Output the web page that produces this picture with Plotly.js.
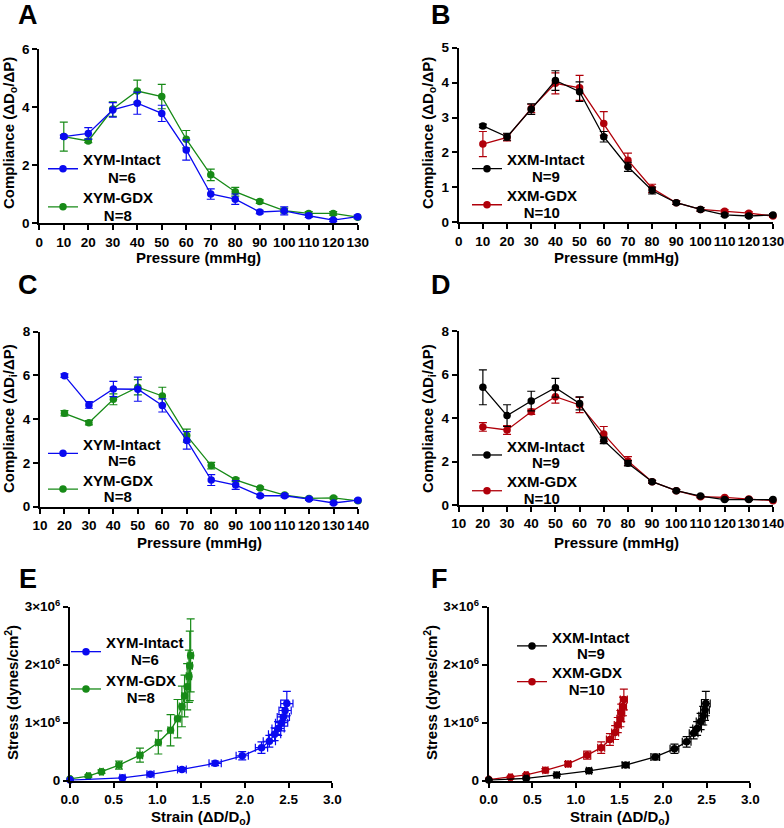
<!DOCTYPE html>
<html>
<head>
<meta charset="utf-8">
<script src="https://cdn.plot.ly/plotly-3.0.1.min.js"></script>
<style>html,body{margin:0;padding:0;background:#fff;}#chart{width:784px;height:828px;}</style>
</head>
<body>
<div id="chart"></div>
<script>
// ---------- DATA ----------
// Panels A/B: outer diameter compliance vs pressure
const pressureOD = [10, 20, 30, 40, 50, 60, 70, 80, 90, 100, 110, 120, 130];
// Panels C/D: inner diameter compliance vs pressure
const pressureID = [20, 30, 40, 50, 60, 70, 80, 90, 100, 110, 120, 130, 140];

const aIntact    = [2.99, 3.10, 3.91, 4.14, 3.79, 2.53, 1.01, 0.83, 0.39, 0.43, 0.26, 0.11, 0.23];
const aIntactErr = [0.05, 0.20, 0.25, 0.38, 0.28, 0.35, 0.18, 0.18, 0.06, 0.14, 0.06, 0.05, 0.05];
const aGdx       = [2.99, 2.84, 3.94, 4.56, 4.37, 2.90, 1.67, 1.09, 0.75, 0.44, 0.34, 0.34, 0.21];
const aGdxErr    = [0.50, 0.06, 0.25, 0.38, 0.42, 0.30, 0.20, 0.15, 0.06, 0.08, 0.06, 0.06, 0.05];

const bIntact    = [2.76, 2.45, 3.24, 4.06, 3.74, 2.45, 1.59, 0.91, 0.56, 0.37, 0.21, 0.18, 0.21];
const bIntactErr = [0.05, 0.10, 0.15, 0.28, 0.28, 0.15, 0.13, 0.10, 0.05, 0.05, 0.04, 0.04, 0.04];
const bGdx       = [2.24, 2.43, 3.26, 3.98, 3.85, 2.83, 1.78, 0.97, 0.56, 0.37, 0.32, 0.26, 0.18];
const bGdxErr    = [0.36, 0.10, 0.12, 0.30, 0.36, 0.34, 0.20, 0.12, 0.05, 0.05, 0.04, 0.04, 0.04];

const cIntact    = [5.99, 4.65, 5.38, 5.37, 4.63, 3.03, 1.22, 0.99, 0.50, 0.50, 0.35, 0.17, 0.30];
const cIntactErr = [0.08, 0.15, 0.35, 0.55, 0.30, 0.40, 0.25, 0.20, 0.06, 0.08, 0.06, 0.05, 0.05];
const cGdx       = [4.27, 3.84, 4.91, 5.46, 5.06, 3.25, 1.88, 1.23, 0.85, 0.53, 0.38, 0.40, 0.27];
const cGdxErr    = [0.12, 0.10, 0.25, 0.35, 0.40, 0.30, 0.15, 0.08, 0.06, 0.05, 0.05, 0.05, 0.05];

const dIntact    = [5.41, 4.11, 4.78, 5.39, 4.67, 2.97, 1.92, 1.07, 0.66, 0.41, 0.25, 0.25, 0.25];
const dIntactErr = [0.80, 0.50, 0.45, 0.43, 0.30, 0.15, 0.12, 0.06, 0.05, 0.05, 0.04, 0.04, 0.04];
const dGdx       = [3.59, 3.45, 4.29, 4.98, 4.60, 3.26, 2.02, 1.07, 0.66, 0.38, 0.35, 0.28, 0.20];
const dGdxErr    = [0.20, 0.20, 0.12, 0.30, 0.35, 0.35, 0.20, 0.06, 0.05, 0.05, 0.04, 0.04, 0.04];

// Panels E/F: stress (dynes/cm^2) vs strain
const eIntactStrain    = [0, 0.60, 0.92, 1.28, 1.66, 1.97, 2.19, 2.28, 2.34, 2.38, 2.42, 2.44, 2.46, 2.48];
const eIntactStrainErr = [0.01, 0.03, 0.04, 0.05, 0.07, 0.07, 0.07, 0.07, 0.07, 0.07, 0.07, 0.07, 0.07, 0.07];
const eIntactStress    = [0.01e6, 0.05e6, 0.11e6, 0.195e6, 0.30e6, 0.43e6, 0.57e6, 0.68e6, 0.80e6, 0.90e6, 1.00e6, 1.10e6, 1.21e6, 1.33e6];
const eIntactStressErr = [0.005e6, 0.01e6, 0.02e6, 0.03e6, 0.04e6, 0.07e6, 0.10e6, 0.10e6, 0.11e6, 0.12e6, 0.14e6, 0.16e6, 0.18e6, 0.21e6];

const eGdxStrain    = [0, 0.21, 0.36, 0.56, 0.80, 1.01, 1.15, 1.23, 1.28, 1.31, 1.34, 1.36, 1.37, 1.38];
const eGdxStrainErr = [0.01, 0.02, 0.02, 0.03, 0.03, 0.03, 0.03, 0.03, 0.03, 0.03, 0.03, 0.03, 0.03, 0.03];
const eGdxStress    = [0.03e6, 0.08e6, 0.155e6, 0.27e6, 0.44e6, 0.66e6, 0.87e6, 1.07e6, 1.28e6, 1.46e6, 1.62e6, 1.80e6, 1.98e6, 2.16e6];
const eGdxStressErr = [0.01e6, 0.02e6, 0.03e6, 0.07e6, 0.12e6, 0.20e6, 0.27e6, 0.33e6, 0.35e6, 0.36e6, 0.40e6, 0.45e6, 0.60e6, 0.63e6];

const fIntactStrain    = [0, 0.43, 0.78, 1.15, 1.57, 1.91, 2.13, 2.27, 2.35, 2.39, 2.43, 2.46, 2.48, 2.49];
const fIntactStrainErr = [0.01, 0.02, 0.03, 0.03, 0.04, 0.05, 0.05, 0.05, 0.05, 0.05, 0.05, 0.05, 0.05, 0.05];
const fIntactStress    = [0.01e6, 0.04e6, 0.10e6, 0.17e6, 0.27e6, 0.41e6, 0.55e6, 0.67e6, 0.82e6, 0.90e6, 1.02e6, 1.12e6, 1.22e6, 1.33e6];
const fIntactStressErr = [0.005e6, 0.01e6, 0.02e6, 0.03e6, 0.04e6, 0.05e6, 0.08e6, 0.09e6, 0.10e6, 0.12e6, 0.14e6, 0.16e6, 0.18e6, 0.21e6];

const fGdxStrain    = [0, 0.25, 0.43, 0.65, 0.91, 1.13, 1.29, 1.39, 1.45, 1.48, 1.51, 1.52, 1.54, 1.55];
const fGdxStrainErr = [0.01, 0.02, 0.02, 0.03, 0.03, 0.04, 0.04, 0.04, 0.04, 0.04, 0.04, 0.04, 0.04, 0.04];
const fGdxStress    = [0.02e6, 0.06e6, 0.10e6, 0.18e6, 0.29e6, 0.44e6, 0.57e6, 0.71e6, 0.83e6, 0.96e6, 1.07e6, 1.17e6, 1.28e6, 1.40e6];
const fGdxStressErr = [0.01e6, 0.015e6, 0.02e6, 0.03e6, 0.04e6, 0.07e6, 0.10e6, 0.10e6, 0.12e6, 0.13e6, 0.14e6, 0.15e6, 0.16e6, 0.18e6];

// Text
const groupXYMIntact = ['XYM-Intact', 'N=6'];
const groupXYMGdx    = ['XYM-GDX', 'N=8'];
const groupXXMIntact = ['XXM-Intact', 'N=9'];
const groupXXMGdx    = ['XXM-GDX', 'N=10'];
const titlePressure = 'Pressure (mmHg)';
const titleStrain   = 'Strain (ΔD/D<sub>o</sub>)';
const titleCompOD   = 'Compliance (ΔD<sub>o</sub>/ΔP)';
const titleCompID   = 'Compliance (ΔD<sub>i</sub>/ΔP)';
const titleStress   = 'Stress (dynes/cm<sup>2</sup>)';
const panelLetters  = ['A', 'B', 'C', 'D', 'E', 'F'];
const stressTickVals = [0, 1e6, 2e6, 3e6];
const stressTickText = ['0', '1×10<sup>6</sup>', '2×10<sup>6</sup>', '3×10<sup>6</sup>'];

// ---------- STYLE ----------
const BLUE = '#0a0af0', GREEN = '#178a17', BLACK = '#000000', RED = '#b0000a';
const FONT = 'Liberation Sans, Arial, Helvetica, sans-serif';
const TICK = 13.5, TITLE = 15, LEGTXT = 15;
const NB = '\u00a0';

function legLabel(g, pad) {
  const s = '<span style="font-size:' + LEGTXT + 'px">';
  return s + g[0] + '</span><br>' + s + NB.repeat(pad) + g[1] + '</span>';
}

function series(x, y, ey, name, color, ax, leg, ex) {
  const t = {
    type: 'scatter', mode: 'lines+markers', x: x, y: y, name: name,
    xaxis: 'x' + ax, yaxis: 'y' + ax, legend: leg, cliponaxis: false,
    line: {color: color, width: 1.3},
    marker: {color: color, size: 7.5, symbol: 'circle'},
    error_y: {type: 'data', array: ey, visible: true, color: color, thickness: 1.2, width: 4}
  };
  if (ex) t.error_x = {type: 'data', array: ex, visible: true, color: color, thickness: 1.2, width: 4};
  return t;
}

const lXYMI = legLabel(groupXYMIntact, 6), lXYMG = legLabel(groupXYMGdx, 5);
const lXXMI = legLabel(groupXXMIntact, 6), lXXMG = legLabel(groupXXMGdx, 4);

const data = [
  series(pressureOD, aGdx, aGdxErr, lXYMG, GREEN, '', 'legend'),
  series(pressureOD, aIntact, aIntactErr, lXYMI, BLUE, '', 'legend'),
  series(pressureOD, bGdx, bGdxErr, lXXMG, RED, '2', 'legend2'),
  series(pressureOD, bIntact, bIntactErr, lXXMI, BLACK, '2', 'legend2'),
  series(pressureID, cGdx, cGdxErr, lXYMG, GREEN, '3', 'legend3'),
  series(pressureID, cIntact, cIntactErr, lXYMI, BLUE, '3', 'legend3'),
  series(pressureID, dGdx, dGdxErr, lXXMG, RED, '4', 'legend4'),
  series(pressureID, dIntact, dIntactErr, lXXMI, BLACK, '4', 'legend4'),
  series(eGdxStrain, eGdxStress, eGdxStressErr, lXYMG, GREEN, '5', 'legend5', eGdxStrainErr),
  series(eIntactStrain, eIntactStress, eIntactStressErr, lXYMI, BLUE, '5', 'legend5', eIntactStrainErr),
  series(fGdxStrain, fGdxStress, fGdxStressErr, lXXMG, RED, '6', 'legend6', fGdxStrainErr),
  series(fIntactStrain, fIntactStress, fIntactStressErr, lXXMI, BLACK, '6', 'legend6', fIntactStrainErr)
];
data[0].xaxis = 'x'; data[0].yaxis = 'y'; data[1].xaxis = 'x'; data[1].yaxis = 'y';

const W = 784, H = 828;
const px = v => v / W, py = v => 1 - v / H;

function xax(l, r, range, dtick, anchor, fmt) {
  return {
    domain: [px(l), px(r)], range: range, dtick: dtick, tick0: range[0], anchor: anchor,
    showline: true, linewidth: 2, linecolor: '#000', mirror: false,
    ticks: 'outside', ticklen: 5, tickwidth: 2, tickcolor: '#000', tickangle: 0,
    ticklabeloverflow: 'allow',
    showgrid: false, zeroline: false, tickformat: fmt || '',
    tickfont: {family: FONT, size: TICK, color: '#000', weight: 'bold'},
    automargin: false, fixedrange: true
  };
}
function yax(b, t, range, dtick, anchor, extra) {
  const a = {
    domain: [py(b), py(t)], range: range, dtick: dtick, anchor: anchor,
    showline: true, linewidth: 2, linecolor: '#000', mirror: false,
    ticks: 'outside', ticklen: 5, tickwidth: 2, tickcolor: '#000',
    ticklabeloverflow: 'allow',
    showgrid: false, zeroline: false,
    tickfont: {family: FONT, size: TICK, color: '#000', weight: 'bold'},
    automargin: false, fixedrange: true
  };
  return Object.assign(a, extra || {});
}

function leg(xpx, ypx, fs) {
  return {x: px(xpx), y: py(ypx), xanchor: 'left', yanchor: 'top', xref: 'paper', yref: 'paper',
          bgcolor: 'rgba(0,0,0,0)', font: {family: FONT, size: fs, color: '#000', weight: 'bold'},
          traceorder: 'reversed', itemclick: false, valign: 'middle'};
}

function ann(t, x, y, size, angle) {
  return {text: t, x: px(x), y: py(y), xref: 'paper', yref: 'paper', showarrow: false,
          xanchor: 'center', yanchor: 'middle', textangle: angle || 0,
          font: {family: FONT, size: size, color: '#000', weight: 'bold'}};
}

const stressY = {tickmode: 'array', tickvals: stressTickVals, ticktext: stressTickText};

const layout = {
  width: W, height: H, margin: {l: 0, r: 0, t: 0, b: 0, autoexpand: false},
  paper_bgcolor: '#fff', plot_bgcolor: '#fff',
  font: {family: FONT, color: '#000', weight: 'bold'},
  showlegend: true,
  xaxis:  xax(39.3, 357.7, [0, 130], 10, 'y'),
  yaxis:  yax(223.3, 49.3, [0, 6], 2, 'x'),
  xaxis2: xax(458.7, 773, [0, 130], 10, 'y2'),
  yaxis2: yax(222.3, 47.7, [0, 5], 1, 'x2'),
  xaxis3: xax(40, 358, [10, 140], 10, 'y3'),
  yaxis3: yax(506.7, 331.7, [0, 8], 2, 'x3'),
  xaxis4: xax(458.7, 773, [10, 140], 10, 'y4'),
  yaxis4: yax(505, 331, [0, 8], 2, 'x4'),
  xaxis5: xax(70, 332.3, [0, 3], 0.5, 'y5', '.1f'),
  yaxis5: yax(780.7, 606.7, [0, 3e6], null, 'x5', stressY),
  xaxis6: xax(488.7, 750.3, [0, 3], 0.5, 'y6', '.1f'),
  yaxis6: yax(780.7, 606.7, [0, 3e6], null, 'x6', stressY),
  legend:  leg(43, 144.7, 13.5),
  legend2: leg(467, 145.7, 12.7),
  legend3: leg(43, 430.4, 12.6),
  legend4: leg(467, 432.1, 12.6),
  legend5: leg(66, 628, 13.2),
  legend6: leg(512, 623, 12.6),
  annotations: [
    ann(panelLetters[0], 28, 15, 27), ann(panelLetters[1], 441, 15, 27),
    ann(panelLetters[2], 28, 285, 27), ann(panelLetters[3], 441, 285, 27),
    ann(panelLetters[4], 28, 579, 27), ann(panelLetters[5], 439, 579, 27),
    ann(titlePressure, 198.5, 257, TITLE), ann(titlePressure, 616, 257, TITLE),
    ann(titlePressure, 199, 542.7, TITLE), ann(titlePressure, 616, 542, TITLE),
    ann(titleStrain, 201, 817, TITLE), ann(titleStrain, 619.5, 817, TITLE),
    ann(titleCompOD, 9, 133, TITLE, -90), ann(titleCompOD, 428, 133, TITLE, -90),
    ann(titleCompID, 9, 419, TITLE, -90), ann(titleCompID, 428, 419, TITLE, -90),
    ann(titleStress, 11, 693, TITLE, -90), ann(titleStress, 430, 693, TITLE, -90)
  ]
};

Plotly.newPlot('chart', data, layout, {displayModeBar: false, staticPlot: true});
</script>
</body>
</html>
